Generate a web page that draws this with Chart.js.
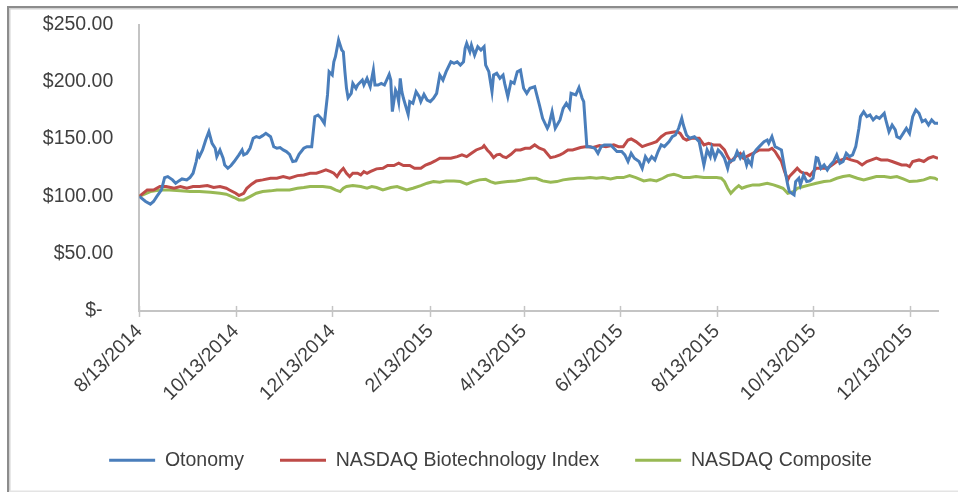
<!DOCTYPE html>
<html><head><meta charset="utf-8">
<script src="https://cdn.jsdelivr.net/npm/chart.js@4.4.1/dist/chart.umd.min.js"></script>
<style>html,body{margin:0;padding:0;background:#fff;overflow:hidden}#c{display:block}</style>
</head><body>
<canvas id="c" width="958" height="492"></canvas>
<script>
// ---- data (x = calendar days since 8/13/2014) ----
const seriesNames = ['Otonomy', 'NASDAQ Biotechnology Index', 'NASDAQ Composite'];
const seriesColors = ['#4A7EBB', '#BE4B48', '#98B954'];

const otonomyDays = [0,4,7,9,11,14,16,18,21,23,25,27,30,32,34,36,37,38,40,42,44,46,48,49,51,53,54,56,58,60,63,65,66,68,70,72,74,76,78,80,83,85,87,89,91,93,95,97,99,101,104,106,109,111,113,115,117,119,120,122,123,124,126,128,129,130,131,132,134,135,137,138,141,142,144,146,148,149,151,153,155,158,159,160,162,163,164,165,166,167,170,171,173,175,177,178,180,182,184,186,188,190,192,194,197,199,201,203,205,206,207,209,210,212,214,216,218,219,221,223,224,226,228,230,231,233,235,237,239,241,243,245,247,250,253,255,258,259,261,263,266,268,270,272,273,276,278,280,281,283,285,288,290,292,294,298,300,302,305,307,309,311,313,316,318,320,322,324,326,328,330,332,335,337,339,341,343,344,346,348,351,354,357,359,361,362,364,366,368,370,372,373,376,378,380,382,384,385,387,388,390,392,395,397,398,400,402,404,406,408,410,411,414,415,417,418,420,422,424,426,428,429,431,433,435,437,439,441,443,445,447,449,451,453,455,456,458,460,462,464,466,468,471,472,474,476,478,479,481,483,485,487,489,491,493,495,497,499,501,503,505];
const otonomyValues = [100,95.5,93.2,95.5,99.8,105.6,116.4,117.3,114.4,111.5,113.5,115.2,114.4,116.4,120.2,130.4,137.6,134.7,140.5,149.2,156.5,146.3,142,134.7,140.5,133.3,127.4,124.5,126.9,130.4,136.2,140.5,136.2,137.6,142,150.7,152.1,151.3,153,155,152.1,143.4,142,142.6,140.5,139.1,136.7,130.4,131,136.7,142,143.4,143.4,169.6,171,168.1,163.8,188.5,208.8,205.9,217.5,221.9,236.4,227.7,226.2,208.8,194.3,186.1,189.9,198.6,194.3,197.2,201.5,197.2,203,195.7,210.3,197.2,197.2,198.6,197.2,206.5,201.5,174,192.8,189.9,182.7,203,191.4,185.6,171.6,182.7,181.2,191.4,187,182.7,189,184.1,182.7,185.6,189.9,205.9,201.5,208.8,217.5,216.1,217.5,214.6,217.5,229.2,233.5,226.2,232,223.3,230.6,227.7,230.6,214.6,208.8,191.4,205.9,207.4,203,205.9,198.6,187,200.1,198.6,208.8,210.3,194.3,189.9,194.3,195.7,179.7,168.1,159.4,162.3,173.9,159.4,166.7,176.8,181.2,176.8,189.9,188.5,194.9,185.6,182.7,143.4,143.4,142,137.6,143.4,144.9,144.9,142,139.1,139.1,136.2,130.4,137.6,133.3,130.4,124.5,134.7,130.4,134.7,131.8,139.1,144.9,143.4,147.8,152.1,153.6,159.4,168.1,162.3,153.6,150.7,152.1,147.8,127.4,140.5,134.7,142,133.3,140.5,137.6,133.3,124.5,130.4,131.8,139.1,133.3,137.6,127.4,131.8,127.4,136.2,140.5,143.4,147.8,149.2,146.3,152.1,143.4,142,140.5,124.5,110,104.2,101.3,112.9,115.8,110,118.7,112.9,113.5,115.8,133.8,133.3,124.5,127.4,123.1,127.4,130.4,136.2,128.9,130.4,137.6,134.7,136.2,143.4,159.4,169.6,173.9,169.6,171,166.7,169.6,168.1,172.5,166.7,156.5,162.3,158,152.1,150.7,155,159.4,155,169.6,175.4,172.5,165.2,166.7,162.3,166.7,163.8,163.8];

const biotechDays = [0,5,9,13,17,22,26,30,34,38,43,47,51,55,57,61,63,66,68,71,74,78,83,87,91,95,100,104,108,112,115,118,121,123,125,127,129,131,133,135,138,140,142,144,146,150,154,157,161,164,167,171,174,178,181,184,187,190,193,197,201,204,207,210,213,217,218,220,222,224,226,228,230,232,235,238,241,244,247,250,253,256,260,263,266,268,271,274,279,283,287,291,295,300,303,306,309,311,314,318,321,324,327,330,333,337,340,342,344,346,349,352,354,357,360,363,367,370,372,374,377,380,382,384,386,388,390,392,395,398,400,402,404,406,408,410,411,414,416,418,420,422,424,426,428,432,435,438,441,444,447,450,454,457,460,463,466,469,473,476,479,482,485,487,489,493,496,499,502,505];
const biotechValues = [100,105.6,105.6,108.6,108.6,107.1,108.6,107.1,108.6,108.6,109.4,107.7,108.6,107.1,105.6,102.7,100.7,102.7,107.1,110.6,113.5,114.4,115.8,115.8,117.3,115.8,118.1,118.7,120.2,120.2,121.6,123.1,121.6,120.2,117.3,121.6,124.5,120.2,117.3,120.2,120.2,118.7,121.6,120.2,121.6,124,124.5,126.9,126.9,128.9,126.9,126.9,124.5,124.5,127.4,128.9,130.9,133.3,133.3,133.3,134.7,136.2,134.7,137.6,140.5,142.6,144.3,140.5,137.6,133.8,136.2,136.7,134.7,133.8,136.7,140.5,140.5,142,142,144.9,142,140.5,133.8,134.7,136.2,137.6,140.5,140.5,142.6,143.4,142.6,144.3,143.4,144.9,143.4,143.4,149.2,150.1,147.8,143.4,144.9,146.3,147.8,152.1,155,155.9,156.5,155,150.7,149.2,150.7,150.7,150.7,144.9,146.3,144.9,144.9,140.5,134.7,130.4,134.7,137.6,133.3,134.7,136.2,137.6,139.1,140.5,140.5,140.5,142,139.1,134.7,130.4,121.6,114.4,117.3,121.6,124.5,121.6,120.2,120.2,118.1,121.6,124.5,124.5,124.5,127.4,130.4,131.8,133.3,131.8,130.4,127.4,130.4,131.8,133.3,131.8,131.8,130.4,128.9,127.4,127.4,126,130.4,131.8,130.4,133.3,134.7,133.3];

const compositeDays = [0,7,13,19,26,32,38,45,51,55,60,63,66,70,74,78,83,87,91,95,100,104,108,112,116,121,124,127,129,131,135,140,144,147,150,154,159,163,166,169,173,178,182,186,190,194,199,203,207,211,215,219,222,225,229,233,238,242,247,251,255,260,264,268,272,277,281,285,289,293,298,302,306,310,314,319,323,327,331,334,338,341,344,348,352,357,361,365,368,370,372,374,377,379,381,384,388,392,397,401,404,407,410,414,416,420,424,428,433,437,441,445,449,454,458,462,466,471,475,479,483,487,492,496,500,503,505];
const compositeValues = [100,104.2,105.6,105.6,104.8,104.2,104.2,103.6,102.7,101.9,99,96.9,96.9,99.8,102.7,104.2,104.8,105.6,105.6,105.6,107.1,107.7,108.6,108.6,108.6,107.7,105.6,104.2,107.1,108.6,109.4,108.6,107.1,108.6,107.7,105.6,107.7,108.6,107.1,105.6,107.1,109.4,111.5,112.9,112.3,113.5,113.5,112.9,110.6,112.9,114.4,114.9,112.9,111.5,112.3,112.9,113.5,114.4,115.8,115.8,113.5,112.3,112.9,114.4,115.2,115.8,115.8,116.4,115.8,116.4,115.2,116.4,116.4,118.1,116.4,113.5,114.4,113.5,115.8,118.1,119.3,118.1,116.4,116.4,117.3,116.4,116.4,116.4,115.8,112.9,107.1,102.7,107.1,109.4,107.1,108.6,110,110,111.5,110,108.6,107.1,102.7,104.2,107.1,108.6,110,111.5,112.9,113.5,115.8,117.3,118.1,115.8,114.4,115.8,117.3,117.3,116.4,117.3,115.2,112.9,113.5,114.4,116.4,115.8,114.4];

const tickLabels = ['8/13/2014','10/13/2014','12/13/2014','2/13/2015','4/13/2015','6/13/2015','8/13/2015','10/13/2015','12/13/2015'];
const yTickValues = [0, 50, 100, 150, 200, 250];
const lastDay = 505;

// ---- helpers ----
const startUTC = Date.UTC(2014, 7, 13);
function dayOf(label) { const [m, d, y] = label.split('/').map(Number); return Math.round((Date.UTC(y, m - 1, d) - startUTC) / 86400000); }
const tickDays = tickLabels.map(dayOf);
function pts(days, vals) { return days.map((d, i) => ({ x: d, y: vals[i] })); }

const FONT = { family: '"Liberation Sans", Arial, Helvetica, sans-serif', size: 19.5 };
const TEXT = '#3f3f3f';
const AXIS = '#c4c4c4';

const frame = {
  id: 'frame',
  beforeDraw(chart) {
    const c = chart.ctx;
    c.save();
    c.fillStyle = '#ffffff';
    c.fillRect(0, 0, chart.width, chart.height);
    c.fillStyle = '#8c8c8c';
    c.fillRect(7, 6, chart.width - 7, 2);
    c.fillRect(7, 6, 2, chart.height - 6);
    c.fillStyle = '#d2d2d2';
    c.fillRect(9, 8, chart.width - 9, 1.5);
    c.fillRect(9, 8, 1.5, chart.height - 8);
    c.fillStyle = '#e4e4e4';
    c.fillRect(9, chart.height - 1.5, chart.width - 9, 1.5);
    c.restore();
  },
  afterDraw(chart) {
    const c = chart.ctx, xs = chart.scales.x, yb = chart.chartArea.bottom;
    c.save();
    c.strokeStyle = AXIS;
    c.lineWidth = 1.5;
    tickDays.forEach(d => {
      const px = Math.round(xs.getPixelForValue(d)) + 0.5;
      c.beginPath(); c.moveTo(px, yb - 5); c.lineTo(px, yb + 6); c.stroke();
    });
    c.restore();
  }
};

const allDays = [otonomyDays, biotechDays, compositeDays];
const allValues = [otonomyValues, biotechValues, compositeValues];

new Chart(document.getElementById('c'), {
  type: 'line',
  data: {
    datasets: seriesNames.map((name, i) => ({
      label: name,
      data: pts(allDays[i], allValues[i]),
      borderColor: seriesColors[i],
      backgroundColor: seriesColors[i],
      borderWidth: 3,
      pointRadius: 0,
      tension: 0,
      fill: false
    }))
  },
  options: {
    responsive: false,
    animation: false,
    devicePixelRatio: 1,
    layout: { padding: { left: 43, right: 20, top: 24.5, bottom: 12 } },
    plugins: {
      tooltip: { enabled: false },
      legend: {
        position: 'bottom',
        labels: {
          usePointStyle: true,
          pointStyle: 'line',
          pointStyleWidth: 46,
          padding: 36,
          color: TEXT,
          font: FONT
        }
      }
    },
    scales: {
      x: {
        type: 'linear',
        min: 0,
        max: lastDay,
        afterBuildTicks: axis => { axis.ticks = tickDays.map(v => ({ value: v })); },
        afterFit: s => { s.paddingLeft = 0; s.paddingRight = 0; },
        ticks: {
          autoSkip: false,
          minRotation: 45,
          maxRotation: 45,
          padding: 9,
          color: TEXT,
          font: FONT,
          callback: v => { const i = tickDays.indexOf(v); return i >= 0 ? tickLabels[i] : ''; }
        },
        grid: { display: false, drawTicks: false },
        border: { display: true, color: AXIS, width: 2 }
      },
      y: {
        min: 0,
        max: 250,
        afterBuildTicks: axis => { axis.ticks = yTickValues.map(v => ({ value: v })); },
        afterFit: s => { s.width = 96.3; s.paddingTop = 0; s.paddingBottom = 0; },
        ticks: {
          padding: 26,
          color: TEXT,
          font: FONT,
          callback: v => v === 0 ? '$-  ' : '$' + v.toFixed(2)
        },
        grid: { display: false, drawTicks: false },
        border: { display: true, color: AXIS, width: 2 }
      }
    }
  },
  plugins: [frame]
});
</script>
</body></html>
